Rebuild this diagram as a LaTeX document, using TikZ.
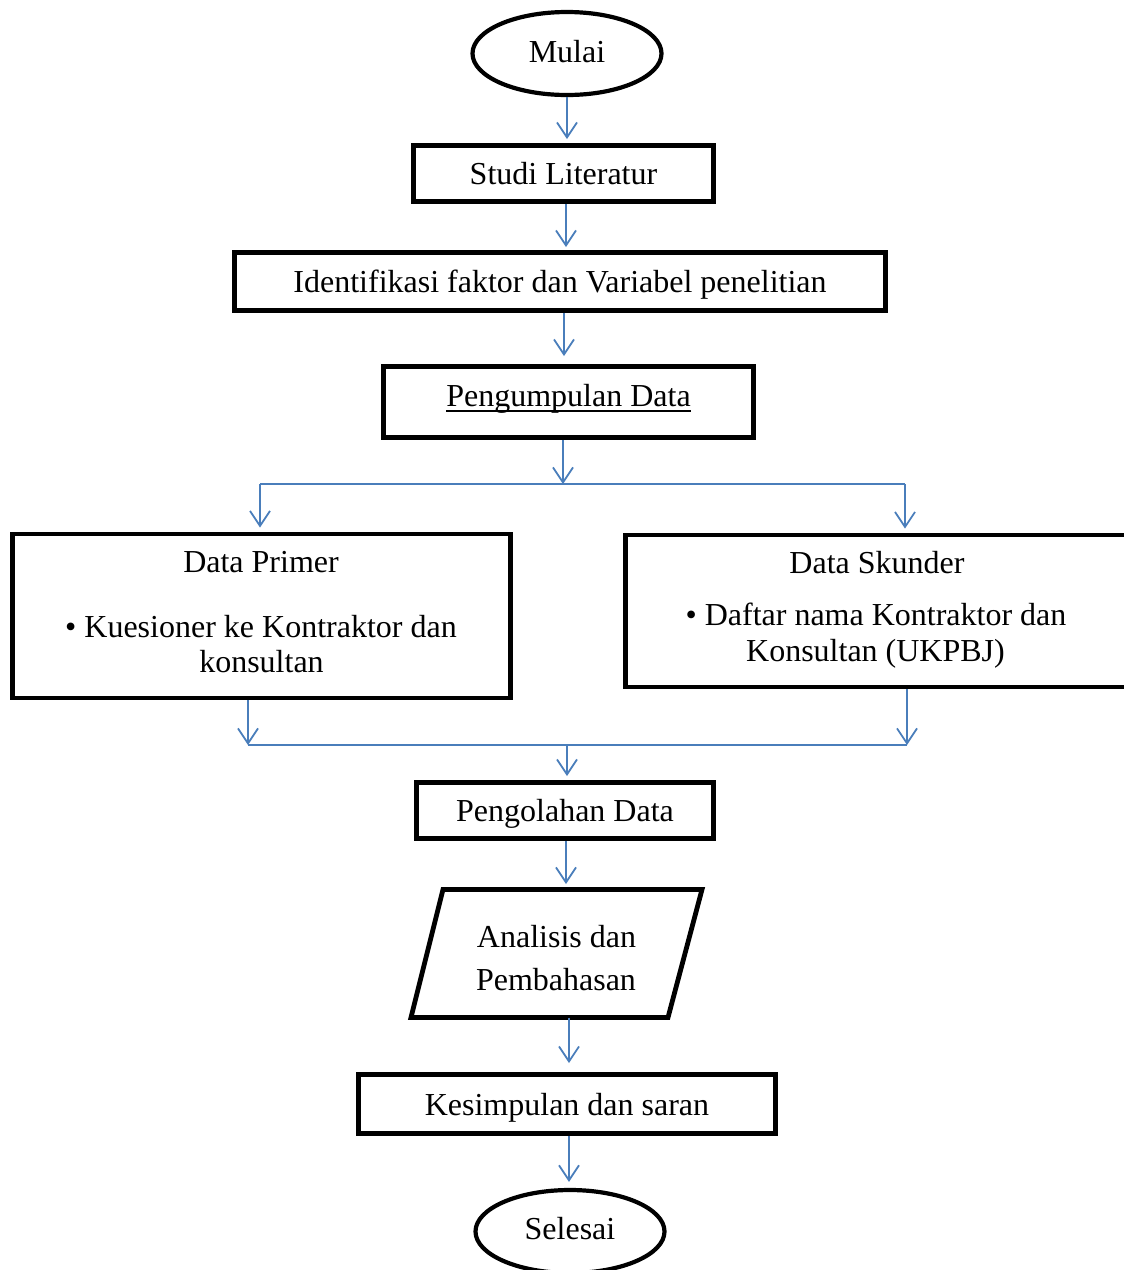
\documentclass[tikz,border=0pt]{standalone}
\usepackage{fontspec}
\setmainfont{Liberation Serif}
\usetikzlibrary{shapes.geometric,arrows.meta}
\definecolor{flowblue}{HTML}{4A7EBB}
\newcommand\flowfont{\fontsize{32}{38}\selectfont}
\newcommand\ulx[1]{\setbox0\hbox{#1}\rlap{\rule[-6pt]{\wd0}{1.6pt}}\box0}
\begin{document}
\begin{tikzpicture}[x=1pt,y=-1pt,
  boxline/.style={draw=black,line width=4.8pt},
  procbox/.style={boxline,rectangle,inner sep=0pt,font=\flowfont,text height=22pt,text depth=0pt},
  term/.style={draw=black,line width=4.2pt,ellipse,inner sep=0pt,minimum width=189pt,minimum height=83pt,font=\flowfont},
  txt/.style={font=\flowfont,anchor=base,inner sep=0pt},
  arr/.style={draw=flowblue,line width=1.8pt,-{Straight Barb[length=15pt,width=20pt]}},
  link/.style={draw=flowblue,line width=1.8pt}]
\useasboundingbox (0,0) rectangle (1124,1270);

% nodes
\node[term,text height=22pt,text depth=5pt] (mulai) at (567,53.5) {Mulai};
\node[procbox,minimum width=300pt,minimum height=56pt] (studi) at (563.5,173.5) {Studi Literatur};
\node[procbox,minimum width=651pt,minimum height=58pt] (ident) at (560,281.5) {Identifikasi faktor dan Variabel penelitian};
\node[procbox,minimum width=370pt,minimum height=71pt,text depth=14pt] (pengump) at (568.5,402) {\ulx{Pengumpulan Data}};

\node[procbox,minimum width=498pt,minimum height=164pt] (primer) at (261.5,616) {};
\node[txt] (primT) at (261,572.5) {Data Primer};
\node[txt] (primA) at (261,637) {\textbullet\ Kuesioner ke Kontraktor dan};
\node[txt] (primB) at (261.5,672) {konsultan};

\node[procbox,minimum width=505.5pt,minimum height=152pt] (skunder) at (878.25,611) {};
\node[txt] (skunT) at (877,573.5) {Data Skunder};
\node[txt] (skunA) at (876,625.5) {\textbullet\ Daftar nama Kontraktor dan};
\node[txt] (skunB) at (875.5,661) {Konsultan (UKPBJ)};

\node[procbox,minimum width=297pt,minimum height=56pt] (pengol) at (565,810.5) {Pengolahan Data};

\node[inner sep=0pt,outer sep=0pt,minimum width=259pt,minimum height=128pt] (para) at (556,953.5) {};
\draw[boxline,line join=miter] ([xshift=-113pt]para.north) -- ([xshift=146pt]para.north)
  -- ([xshift=112pt]para.south) -- ([xshift=-145pt]para.south) -- cycle;
\node[txt] (analA) at (556.5,947) {Analisis dan};
\node[txt] (analB) at (556,990) {Pembahasan};

\node[procbox,minimum width=417pt,minimum height=59pt] (kesimp) at (567,1104) {Kesimpulan dan saran};
\node[term,text height=22pt,text depth=7pt] (selesai) at (570,1231.5) {Selesai};

% junction points
\coordinate (split) at (563,484);
\coordinate (splitL) at (260,484);
\coordinate (splitR) at (905,484);
\coordinate (joinL) at (248,745);
\coordinate (joinR) at (907,745);
\coordinate (join) at (567,745);

% connectors
\draw[arr,shorten >=4pt] (mulai.south) -- (mulai.south |- studi.north);
\draw[arr,shorten >=3pt] ([xshift=2.5pt]studi.south) -- ([xshift=2.5pt]studi.south |- ident.north);
\draw[arr,shorten >=8pt] ([xshift=4pt]ident.south) -- ([xshift=4pt]ident.south |- pengump.north);
\draw[arr] (pengump.south -| split) -- (split);
\draw[link] (splitL) -- (splitR);
\draw[arr,shorten >=4pt] (splitL) -- (splitL |- primer.north);
\draw[arr,shorten >=4pt] (splitR) -- (splitR |- skunder.north);
\draw[arr] (primer.south -| joinL) -- (joinL);
\draw[arr] (skunder.south -| joinR) -- (joinR);
\draw[link] (joinL) -- (joinR);
\draw[arr,shorten >=4pt] (join) -- (join |- pengol.north);
\draw[arr,shorten >=5.5pt] ([xshift=1pt]pengol.south) -- ([xshift=1pt]pengol.south |- para.north);
\draw[arr,shorten >=9pt] ([xshift=13pt]para.south) -- ([xshift=13pt]para.south |- kesimp.north);
\draw[arr,shorten >=6pt] ([xshift=2pt]kesimp.south) -- ([xshift=2pt]kesimp.south |- selesai.north);
\end{tikzpicture}
\end{document}
